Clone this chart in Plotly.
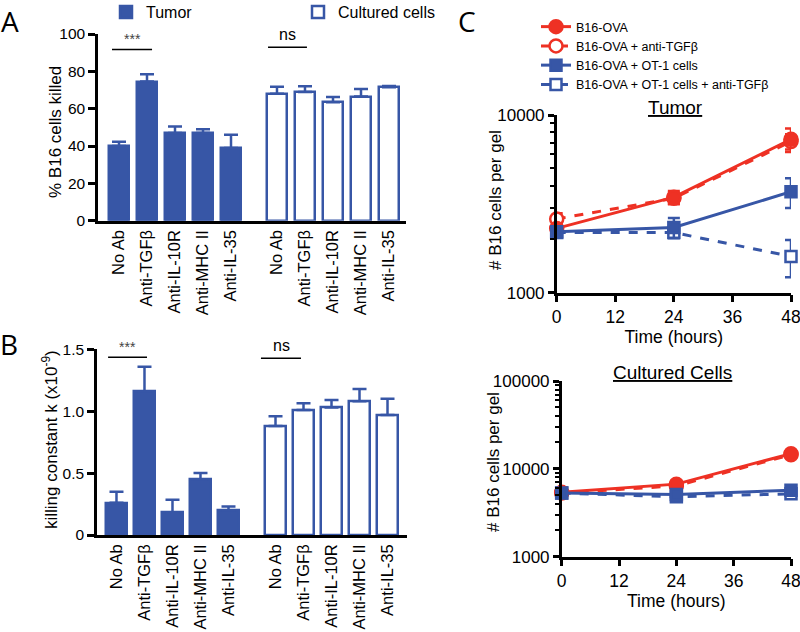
import plotly.graph_objects as go

W, H = 800, 632
def fx(p):
    return p / W
def fy(p):
    return 1 - p / H

BLUE = "#3756a6"
RED = "#ee3124"
FONT = "Arial"

# ---------------- data ----------------
antibodies = ["No Ab", "Anti-TGFβ", "Anti-IL-10R", "Anti-MHC II", "Anti-IL-35"]

killed_tumor = [40, 74.5, 47, 47, 39]
killed_tumor_err = [2.3, 4.0, 3.5, 2.0, 7.0]
killed_cultured = [68, 69, 63.5, 66.5, 71.5]
killed_cultured_err = [3.7, 3.0, 2.7, 4.0, 0.7]

k_tumor = [0.26, 1.16, 0.18, 0.45, 0.20]
k_tumor_err = [0.09, 0.20, 0.105, 0.05, 0.03]
k_cultured = [0.88, 1.01, 1.03, 1.08, 0.97]
k_cultured_err = [0.08, 0.055, 0.06, 0.10, 0.13]

time_h = [0, 24, 48]
series_names = ["B16-OVA", "B16-OVA + anti-TGFβ", "B16-OVA + OT-1 cells",
                "B16-OVA + OT-1 cells + anti-TGFβ"]

tumor_b16 = [2300, 3450, 7300]
tumor_b16_err = [150, 280, 1100]
tumor_b16_tgf = [2600, 3400, 7100]
tumor_b16_tgf_err = [200, 250, 700]
tumor_ot1 = [2200, 2330, 3700]
tumor_ot1_err = [100, 300, 700]
tumor_ot1_tgf = [2180, 2180, 1600]
tumor_ot1_tgf_err = [100, 150, 380]

cult_b16 = [5400, 6700, 14900]
cult_b16_err = [300, 600, 800]
cult_b16_tgf = [5300, 6400, 14500]
cult_b16_tgf_err = [300, 500, 800]
cult_ot1 = [5300, 5100, 5700]
cult_ot1_err = [300, 400, 700]
cult_ot1_tgf = [5300, 4800, 5200]
cult_ot1_tgf_err = [300, 400, 500]

log_major = [1000, 10000, 100000]
log_minor_top = [2000, 3000, 4000, 5000, 6000, 7000, 8000, 9000]
log_minor_bot = log_minor_top + [20000, 30000, 40000, 50000, 60000, 70000, 80000, 90000]

fig = go.Figure()

# ---------------- bar panels ----------------
def add_bars(vals, errs, xa, ya, filled, name, legend_show):
    fig.add_trace(go.Bar(
        x=antibodies, y=vals, xaxis=xa, yaxis=ya, width=0.73,
        marker=dict(color=BLUE if filled else "white",
                    line=dict(color=BLUE, width=2.5)),
        error_y=dict(type="data", symmetric=False, array=errs,
                     arrayminus=[0] * len(errs), color=BLUE,
                     thickness=2.5, width=7),
        name=name, showlegend=legend_show, legend="legend2",
    ))

add_bars(killed_tumor, killed_tumor_err, "x", "y", True, "Tumor", True)
add_bars(killed_cultured, killed_cultured_err, "x2", "y", False, "Cultured cells", True)
add_bars(k_tumor, k_tumor_err, "x3", "y2", True, "Tumor", False)
add_bars(k_cultured, k_cultured_err, "x4", "y2", False, "Cultured cells", False)

# ---------------- line panels ----------------
def add_line(y, err, xa, ya, color, symbol, size, filled, dash, name, rank, show):
    fig.add_trace(go.Scatter(
        x=time_h, y=y, xaxis=xa, yaxis=ya, mode="lines+markers",
        line=dict(color=color, width=3, dash=dash),
        marker=dict(symbol=symbol, size=size,
                    color=color if filled else "white",
                    line=dict(color=color, width=2.5)),
        error_y=dict(type="data", array=err, color=color, thickness=2.5, width=6),
        name=name, legendrank=rank, showlegend=show, cliponaxis=False,
    ))

for xa, ya, d, show in [
    ("x5", "y3", (tumor_b16, tumor_b16_err, tumor_b16_tgf, tumor_b16_tgf_err,
                  tumor_ot1, tumor_ot1_err, tumor_ot1_tgf, tumor_ot1_tgf_err), True),
    ("x6", "y4", (cult_b16, cult_b16_err, cult_b16_tgf, cult_b16_tgf_err,
                  cult_ot1, cult_ot1_err, cult_ot1_tgf, cult_ot1_tgf_err), False),
]:
    add_line(d[2], d[3], xa, ya, RED, "circle", 13, False, "dash", series_names[1], 2, show)
    add_line(d[6], d[7], xa, ya, BLUE, "square", 11, False, "dash", series_names[3], 4, show)
    add_line(d[0], d[1], xa, ya, RED, "circle", 13, True, "solid", series_names[0], 1, show)
    add_line(d[4], d[5], xa, ya, BLUE, "square", 11, True, "solid", series_names[2], 3, show)

# ---------------- axes ----------------
base_x = dict(showline=True, linewidth=2.5, linecolor="black", showgrid=False,
              zeroline=False, ticks="", tickangle=-90, type="category",
              automargin=False,
              tickfont=dict(size=16.5, color="black", family=FONT))
base_y = dict(showline=True, linewidth=2.5, linecolor="black", showgrid=False,
              zeroline=False, ticks="outside", ticklen=7, tickwidth=2.5,
              automargin=False,
              tickcolor="black", tickfont=dict(size=15.5, color="black", family=FONT))

fig.update_layout(
    xaxis=dict(base_x, domain=[fx(98), fx(254)], range=[-0.75, 4.821], anchor="y"),
    xaxis2=dict(base_x, domain=[fx(254), fx(406)], range=[-0.821, 4.607], anchor="y"),
    yaxis=dict(base_y, domain=[fy(220.7), fy(34)], range=[0, 100], anchor="x",
               tickvals=[0, 20, 40, 60, 80, 100]),
    xaxis3=dict(base_x, domain=[fx(97), fx(254)], range=[-0.696, 4.911], anchor="y2"),
    xaxis4=dict(base_x, domain=[fx(254), fx(407)], range=[-0.768, 4.696], anchor="y2"),
    yaxis2=dict(base_y, domain=[fy(535), fy(349.3)], range=[0, 1.5], anchor="x3",
                tickvals=[0, 0.5, 1.0, 1.5], ticktext=["0", "0.5", "1.0", "1.5"]),
)

line_x = dict(showline=True, linewidth=2.5, linecolor="black", showgrid=False,
              zeroline=False, ticks="outside", ticklen=7, tickwidth=2.5,
              automargin=False, ticklabeloverflow="allow",
              tickcolor="black", range=[0, 48], tickvals=[0, 12, 24, 36, 48],
              tickfont=dict(size=17.5, color="black", family=FONT),
              title=dict(text="Time (hours)", font=dict(size=17.5, family=FONT), standoff=2))
line_y = dict(showline=True, linewidth=2.5, linecolor="black", showgrid=False,
              zeroline=False, ticks="outside", ticklen=6, tickwidth=2.5,
              automargin=False, ticklabeloverflow="allow",
              tickcolor="black", type="log",
              tickfont=dict(size=17, color="black", family=FONT))

fig.update_layout(
    xaxis5=dict(line_x, domain=[fx(556.7), fx(791)], anchor="y3"),
    yaxis3=dict(line_y, domain=[fy(292.7), fy(115)], range=[3, 4], anchor="x5",
                tickvals=log_major[:2], ticktext=[str(v) for v in log_major[:2]],
                minor=dict(tickvals=log_minor_top, ticks="outside", ticklen=4,
                           tickwidth=2, tickcolor="black")),
    xaxis6=dict(line_x, domain=[fx(561.7), fx(791)], anchor="y4"),
    yaxis4=dict(line_y, domain=[fy(556.7), fy(381)], range=[3, 5], anchor="x6",
                tickvals=log_major, ticktext=[str(v) for v in log_major],
                minor=dict(tickvals=log_minor_bot, ticks="outside", ticklen=4,
                           tickwidth=2, tickcolor="black")),
)

# ---------------- significance bars ----------------
sig = [
    ("x", "y", antibodies[0], -0.25, antibodies[1], 0.18, 91.7, "***", 13),
    ("x2", "y", antibodies[0], -0.32, antibodies[1], 0.07, 92.9, "ns", 10.5),
    ("x3", "y2", antibodies[0], -0.30, antibodies[1], 0.09, 1.435, "***", 11),
    ("x4", "y2", antibodies[0], -0.52, antibodies[1], -0.09, 1.427, "ns", 5.5),
]
shapes = []
annotations = []
for xa, ya, c0, s0, c1, s1, yv, txt, xs in sig:
    shapes.append(dict(type="line", xref=xa, yref=ya, x0=c0, x0shift=s0, x1=c1,
                       x1shift=s1, y0=yv, y1=yv, line=dict(color="black", width=1.5)))
    annotations.append(dict(xref=xa, yref=ya, x=c0, xshift=xs, y=yv, yanchor="bottom",
                            yshift=0 if txt == "***" else 2, text=txt, showarrow=False,
                            font=dict(size=14 if txt == "***" else 16, family=FONT,
                                      color="#444" if txt == "***" else "black")))

# y-axis titles (placed as rotated annotations)
for t, x, y, s in [("% B16 cells killed", 55, 132, 17),
                   ("killing constant k (x10<sup>-9</sup>)", 50, 440, 17),
                   ("# B16 cells per gel", 495, 200, 17),
                   ("# B16 cells per gel", 493, 462, 17)]:
    annotations.append(dict(xref="paper", yref="paper", x=fx(x), y=fy(y), text=t,
                            textangle=-90, showarrow=False, xanchor="center",
                            yanchor="middle", font=dict(size=s, family=FONT, color="black")))

# panel letters
for t, x, y in [("A", 10, 0), ("B", 9, 323), ("C", 467, 0)]:
    annotations.append(dict(xref="paper", yref="paper", x=fx(x), y=fy(y), text=t,
                            showarrow=False, xanchor="center", yanchor="top",
                            font=dict(size=28, family="Open Sans", color="black")))

# panel titles
for t, x, y in [("<u>Tumor</u>", 675, 107), ("<u>Cultured Cells</u>", 672.7, 372.7)]:
    annotations.append(dict(xref="paper", yref="paper", x=fx(x), y=fy(y), text=t,
                            showarrow=False, xanchor="center", yanchor="middle",
                            font=dict(size=19, family=FONT, color="black")))

fig.update_layout(
    width=W, height=H, margin=dict(l=0, r=0, t=0, b=0, pad=0, autoexpand=False),
    paper_bgcolor="white", plot_bgcolor="white",
    font=dict(family=FONT, color="black"),
    bargap=0, shapes=shapes, annotations=annotations,
    legend=dict(x=fx(536), y=fy(12), xanchor="left", yanchor="top",
                font=dict(size=12.5, family=FONT, color="black"),
                bgcolor="rgba(0,0,0,0)", itemwidth=30, tracegroupgap=0),
    legend2=dict(x=fx(106), y=fy(-5), xanchor="left", yanchor="top",
                 orientation="h", entrywidth=147,
                 font=dict(size=16, family=FONT, color="black"),
                 bgcolor="rgba(0,0,0,0)"),
)

fig.write_html("out.html", config={"displayModeBar": False},
               post_script="document.body.style.margin='0px';"
                           "document.body.style.overflow='hidden';")
